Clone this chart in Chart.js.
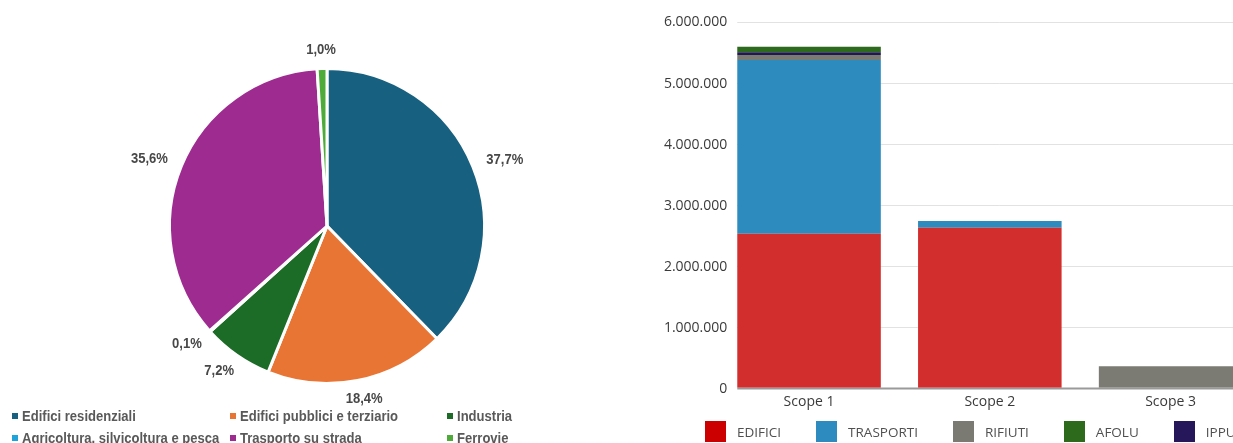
<!DOCTYPE html>
<html lang="it">
<head>
<meta charset="utf-8">
<title>Emissioni per settore e per scope</title>
<script src="https://cdn.jsdelivr.net/npm/chart.js@4/dist/chart.umd.min.js"></script>
<style>
  html, body { margin: 0; padding: 0; background: #fff; }
  body { width: 1233px; height: 443px; overflow: hidden; position: relative; }
  #pieCanvas { position: absolute; left: 0; top: 0; }
  #barCanvas { position: absolute; left: 600px; top: 0; }
  #pieLegend {
    position: absolute; left: 0; top: 0;
    font: bold 15px "Liberation Sans", Arial, sans-serif;
    color: #595959;
  }
  #pieLegend .item { position: absolute; white-space: nowrap; display: flex; align-items: center; height: 20px; line-height: 20px; }
  #pieLegend .sw { width: 6px; height: 6px; margin-right: 4px; flex: none; }
  #pieLegend .tx { display: inline-block; transform: scaleX(0.87); transform-origin: left center; }
  #barLegend {
    position: absolute; left: 705px; top: 421px; height: 21px;
    display: flex; align-items: center; white-space: nowrap;
    font: 13.5px "Open Sans", sans-serif; color: #505050;
  }
  #barLegend .item { display: flex; align-items: center; margin-right: 35px; }
  #barLegend .sw { width: 21px; height: 21px; margin-right: 11px; flex: none; }
</style>
</head>
<body>
<canvas id="pieCanvas" width="620" height="443"></canvas>
<div id="pieLegend"></div>
<canvas id="barCanvas" width="661" height="420"></canvas>
<div id="barLegend"></div>
<script>
// ---- Quota delle emissioni per settore (%) ----
const sectors = [
  'Edifici residenziali',
  'Edifici pubblici e terziario',
  'Industria',
  'Agricoltura, silvicoltura e pesca',
  'Trasporto su strada',
  'Ferrovie'
];
const shares = [37.7, 18.4, 7.2, 0.1, 35.6, 1.0];
const sectorColors = ['#18607F', '#E97534', '#1C6B27', '#1FA3DB', '#9E2B8F', '#4EAB3A'];

// ---- Emissioni per scope (tCO2e) ----
const scopes = ['Scope 1', 'Scope 2', 'Scope 3'];
const edifici   = [2521000, 2620000, 0];
const trasporti = [2848000, 110000, 0];
const rifiuti   = [82000, 0, 352000];
const ippu      = [44000, 0, 0];
const afolu     = [92000, 0, 0];
const yTicks    = [0, 1000000, 2000000, 3000000, 4000000, 5000000, 6000000];

const seriesNames   = ['EDIFICI', 'TRASPORTI', 'RIFIUTI', 'AFOLU', 'IPPU'];
const seriesColors  = { EDIFICI: '#D32E2E', TRASPORTI: '#2E8BBE', RIFIUTI: '#7B7B74', AFOLU: '#2E6A1E', IPPU: '#1E1A50' };
const swatchColors  = { EDIFICI: '#CC0000', TRASPORTI: '#2E8BC0', RIFIUTI: '#7A7A72', AFOLU: '#2E6A1C', IPPU: '#25175A' };
const seriesData    = { EDIFICI: edifici, TRASPORTI: trasporti, RIFIUTI: rifiuti, AFOLU: afolu, IPPU: ippu };
// bottom-to-top stacking order of the segments
const stackOrder    = ['EDIFICI', 'TRASPORTI', 'RIFIUTI', 'IPPU', 'AFOLU'];

const narrow = 0.87;   // horizontal squeeze giving the narrow bold face
const labelFont = 'bold 15px "Liberation Sans", Arial, sans-serif';
const axisFont = '14px "Open Sans", sans-serif';
const fmtPct = v => v.toFixed(1).replace('.', ',') + '%';
const fmtThousands = v => String(v).replace(/\B(?=(\d{3})+(?!\d))/g, '.');

// Percentage labels placed just outside each slice
const outsideLabels = {
  id: 'outsideLabels',
  afterDatasetsDraw(chart) {
    const { ctx } = chart;
    const meta = chart.getDatasetMeta(0);
    const values = chart.data.datasets[0].data;
    ctx.save();
    ctx.font = labelFont;
    ctx.fillStyle = '#484848';
    ctx.textAlign = 'center';
    ctx.textBaseline = 'middle';
    meta.data.forEach((arc, i) => {
      const p = arc.getProps(['x', 'y', 'startAngle', 'endAngle', 'outerRadius'], true);
      const mid = (p.startAngle + p.endAngle) / 2;
      const text = fmtPct(values[i]);
      const w = ctx.measureText(text).width * narrow;
      const rx = p.outerRadius + 16 + w / 2;
      const ry = p.outerRadius + 19;
      const cx = p.x + Math.cos(mid) * rx;
      const cy = p.y + Math.sin(mid) * ry;
      ctx.save();
      ctx.translate(cx, cy);
      ctx.scale(narrow, 1);
      ctx.fillText(text, 0, 0);
      ctx.restore();
    });
    ctx.restore();
  }
};

new Chart(document.getElementById('pieCanvas'), {
  type: 'pie',
  data: {
    labels: sectors,
    datasets: [{
      data: shares,
      backgroundColor: sectorColors,
      borderColor: '#ffffff',
      borderWidth: 3
    }]
  },
  options: {
    responsive: false,
    animation: false,
    devicePixelRatio: 1,
    layout: { padding: { top: 67, bottom: 58, left: 168, right: 134 } },
    plugins: { legend: { display: false }, tooltip: { enabled: false } }
  },
  plugins: [outsideLabels]
});

// Legend for the pie: three fixed columns, two rows
const pieLegend = document.getElementById('pieLegend');
const colX = [12, 230, 447];
const rowY = [406, 428];
sectors.forEach((name, i) => {
  const item = document.createElement('div');
  item.className = 'item';
  item.style.left = colX[i % 3] + 'px';
  item.style.top = rowY[Math.floor(i / 3)] + 'px';
  const sw = document.createElement('span');
  sw.className = 'sw';
  sw.style.background = sectorColors[i];
  const tx = document.createElement('span');
  tx.className = 'tx';
  tx.textContent = name;
  item.appendChild(sw);
  item.appendChild(tx);
  pieLegend.appendChild(item);
});

// Grid lines and value labels of the vertical axis, starting at the first bar
const barGrid = {
  id: 'barGrid',
  beforeDatasetsDraw(chart) {
    const { ctx, scales: { y } } = chart;
    const first = chart.getDatasetMeta(0).data[0];
    const x0 = first.x - first.width / 2;
    const x1 = chart.width;
    ctx.save();
    y.ticks.forEach(t => {
      const py = Math.round(y.getPixelForValue(t.value)) + 0.5;
      ctx.beginPath();
      if (t.value === 0) {
        ctx.strokeStyle = '#9a9a9a';
        ctx.lineWidth = 2;
      } else {
        ctx.strokeStyle = '#e2e2e2';
        ctx.lineWidth = 1;
      }
      ctx.moveTo(x0, py);
      ctx.lineTo(x1, py);
      ctx.stroke();
    });
    ctx.restore();
  },
  afterDraw(chart) {
    const { ctx, scales: { y } } = chart;
    const first = chart.getDatasetMeta(0).data[0];
    const x0 = first.x - first.width / 2;
    ctx.save();
    ctx.font = axisFont;
    ctx.fillStyle = '#3a3a3a';
    ctx.textAlign = 'right';
    ctx.textBaseline = 'middle';
    y.ticks.forEach(t => {
      ctx.fillText(fmtThousands(t.value), x0 - 10, y.getPixelForValue(t.value) + 1);
    });
    ctx.restore();
  }
};

new Chart(document.getElementById('barCanvas'), {
  type: 'bar',
  data: {
    labels: scopes,
    datasets: stackOrder.map(name => ({
      label: name,
      data: seriesData[name],
      backgroundColor: seriesColors[name],
      borderWidth: 0,
      categoryPercentage: 1,
      barPercentage: 0.794
    }))
  },
  options: {
    responsive: false,
    animation: false,
    devicePixelRatio: 1,
    layout: { padding: { top: 21.5, bottom: 3.5, left: 118.65, right: 0 } },
    plugins: { legend: { display: false }, tooltip: { enabled: false } },
    scales: {
      x: {
        stacked: true,
        grid: { display: false, drawTicks: false },
        border: { display: false },
        ticks: { color: '#3a3a3a', padding: 6, font: { family: '"Open Sans", sans-serif', size: 14 } }
      },
      y: {
        display: false,
        stacked: true,
        min: 0,
        max: yTicks[yTicks.length - 1],
        afterBuildTicks: scale => { scale.ticks = yTicks.map(v => ({ value: v })); }
      }
    }
  },
  plugins: [barGrid]
});

// Legend for the bars
const barLegend = document.getElementById('barLegend');
seriesNames.forEach(name => {
  const item = document.createElement('div');
  item.className = 'item';
  const sw = document.createElement('span');
  sw.className = 'sw';
  sw.style.background = swatchColors[name];
  const tx = document.createElement('span');
  tx.textContent = name;
  item.appendChild(sw);
  item.appendChild(tx);
  barLegend.appendChild(item);
});
</script>
</body>
</html>
